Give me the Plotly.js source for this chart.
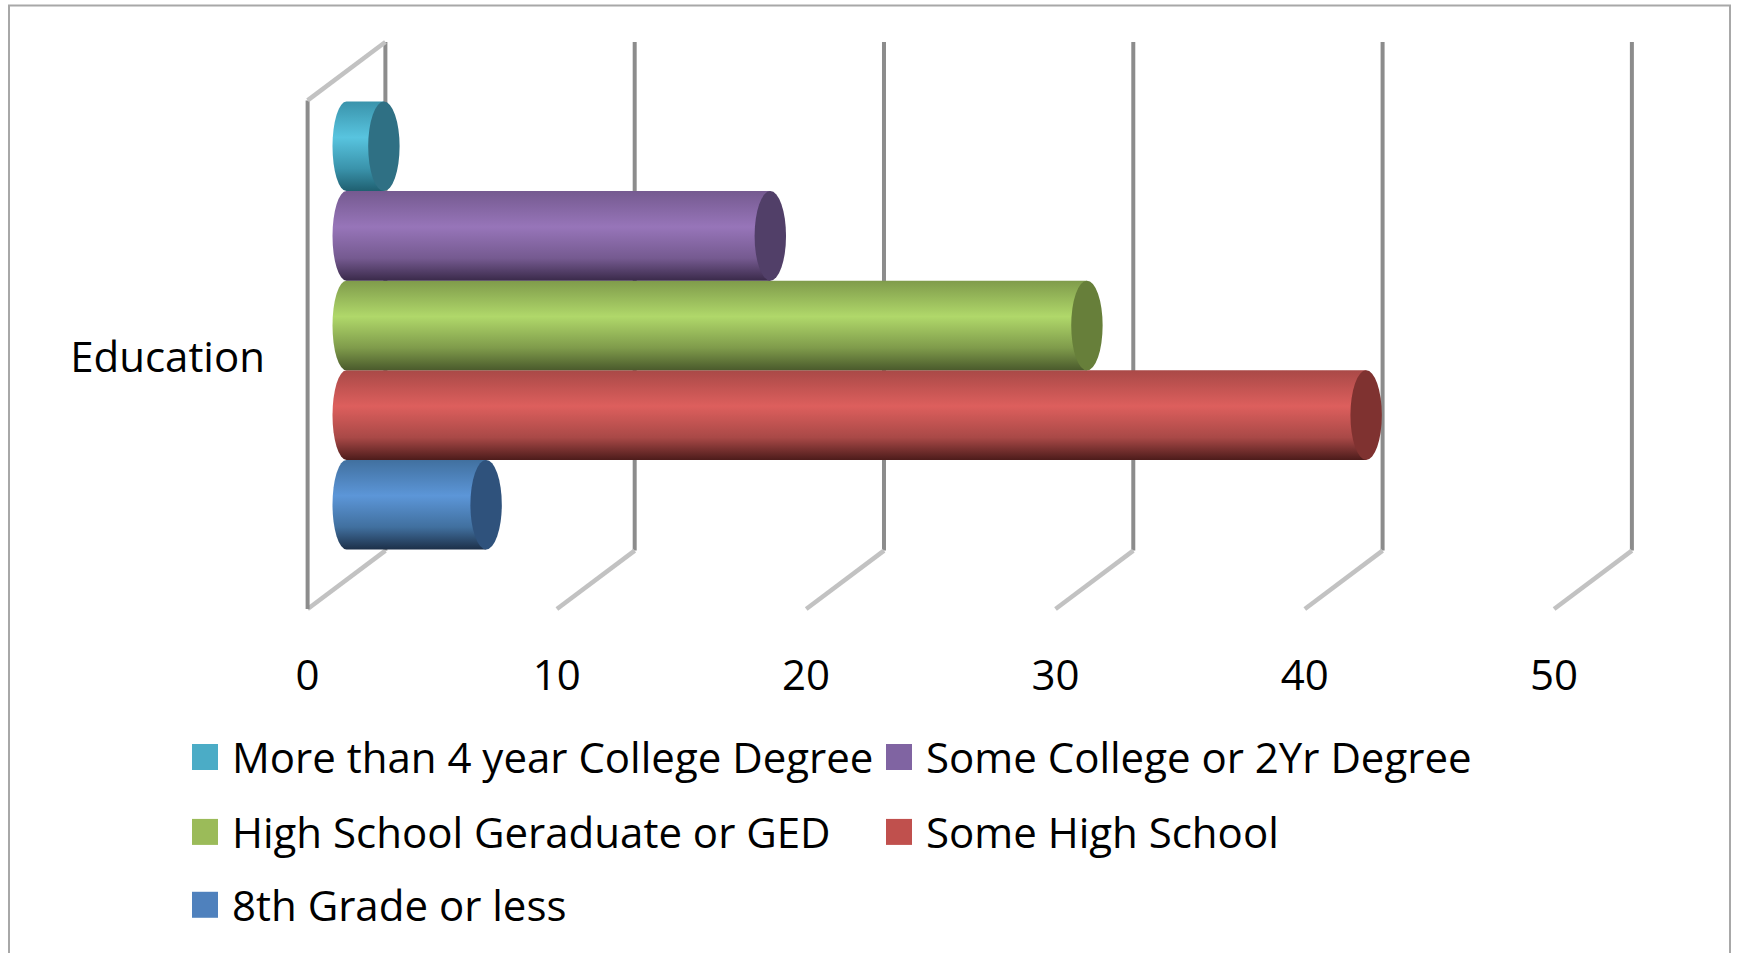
<!DOCTYPE html>
<html>
<head>
<meta charset="utf-8">
<script src="https://cdn.plot.ly/plotly-3.0.1.min.js"></script>
<style>html,body{margin:0;padding:0;background:#fff;overflow:hidden}#chart{width:1741px;height:953px}</style>
</head>
<body>
<div id="chart"></div>
<script>
var categories = ['Education'];
var seriesNames = ['8th Grade or less', 'Some High School', 'High School Geraduate or GED', 'Some College or 2Yr Degree', 'More than 4 year College Degree'];
var seriesValues = [5.6, 40.9, 29.7, 17, 1.5];
var legendColors = ['#4f81bd', '#c0504d', '#9bbb59', '#8064a2', '#4bacc6'];
var capColors = ['#2f527c', '#7f3230', '#677f3a', '#513f68', '#2f7084'];
var gradTop = ['#41709f', '#a94947', '#7f9b4b', '#755a90', '#3a93ab'];
var gradMid = ['#5c96d8', '#dd5f5d', '#b0d86a', '#9775b9', '#58c4df'];
var gradBottom = ['#1d3049', '#4d1c1b', '#4a5a2c', '#3a2a4a', '#1f5f70'];
var xTicks = [0, 10, 20, 30, 40, 50];

var W = 1741, H = 953, L = 300, R = 1681, T = 41.5, B = 609.5;
var pxPerUnit = 24.93, zeroPx = 346.5;
var depthUnits = 1.56;           // half of the wall depth, in axis units
var plotW = R - L, plotH = B - T;
var barBand = 0.79, barEach = barBand / seriesNames.length;
var fs = 42, textFont = '"Open Sans", sans-serif';
var paperX = function (p) { return (p - L) / plotW; };
var paperY = function (p) { return (B - p) / plotH; };

var legendPos = [[192, 906], [886, 833], [192, 833], [886, 758], [192, 758]];

var traces = seriesNames.map(function (n, i) {
  return {
    type: 'bar', orientation: 'h', name: n,
    y: categories, x: [seriesValues[i]],
    marker: {color: legendColors[i], line: {width: 0}},
    legend: i === 0 ? 'legend' : 'legend' + (i + 1),
    showlegend: true,
    hoverinfo: 'name+x'
  };
});

var shapes = [];
// outer chart frame
shapes.push({type: 'rect', xref: 'paper', yref: 'paper', layer: 'below',
  x0: paperX(9), x1: paperX(1730), y0: paperY(960), y1: paperY(5),
  line: {color: '#a8a8a8', width: 2}, fillcolor: 'rgba(0,0,0,0)'});

var wallLine = {color: '#8c8c8c', width: 4};
var floorLine = {color: '#c2c2c2', width: 4.5};
var floorBackY = paperY(551), frontTopY = paperY(100);
xTicks.forEach(function (t) {
  // back wall gridline
  shapes.push({type: 'line', xref: 'x', yref: 'paper', layer: 'below',
    x0: t + depthUnits, x1: t + depthUnits, y0: floorBackY, y1: 1, line: wallLine});
  // floor diagonal
  shapes.push({type: 'line', xref: 'x', yref: 'paper', layer: 'below',
    x0: t - depthUnits, x1: t + depthUnits, y0: 0, y1: floorBackY, line: floorLine});
});
// left side wall
shapes.push({type: 'line', xref: 'x', yref: 'paper', layer: 'below',
  x0: -depthUnits, x1: -depthUnits, y0: 0, y1: frontTopY, line: wallLine});
shapes.push({type: 'line', xref: 'x', yref: 'paper', layer: 'below',
  x0: -depthUnits, x1: depthUnits, y0: frontTopY, y1: 1, line: floorLine});

// cylinder end caps
var capRx = 0.63;
seriesValues.forEach(function (v, i) {
  var c = -barBand / 2 + barEach * (i + 0.5);
  shapes.push({type: 'circle', xref: 'x', yref: 'y', layer: 'above',
    x0: v - capRx, x1: v + capRx, y0: c - barEach / 2, y1: c + barEach / 2,
    fillcolor: capColors[i], line: {width: 0}});
});

var layout = {
  width: W, height: H, autosize: false, showlegend: true,
  paper_bgcolor: '#fff', plot_bgcolor: 'rgba(0,0,0,0)',
  margin: {l: L, r: W - R, t: T, b: H - B, pad: 0, autoexpand: false},
  barmode: 'group', bargap: 1 - barBand, bargroupgap: 0,
  font: {family: textFont, color: '#000', size: fs},
  xaxis: {
    range: [(L - zeroPx) / pxPerUnit, (R - zeroPx) / pxPerUnit], automargin: false,
    tickmode: 'array', tickvals: xTicks, ticktext: xTicks.map(String),
    showgrid: false, zeroline: false, showline: false, ticks: '',
    ticklabelshift: -39, ticklabelstandoff: 38,
    tickfont: {family: textFont, size: fs, color: '#000'}
  },
  yaxis: {
    type: 'category', categoryarray: categories, range: [-0.5, 0.5], automargin: false,
    showgrid: false, zeroline: false, showline: false, ticks: '',
    ticklabelshift: 32, ticklabelstandoff: 34,
    tickfont: {family: textFont, size: fs, color: '#000'}
  },
  shapes: shapes
};
legendPos.forEach(function (p, i) {
  layout[i === 0 ? 'legend' : 'legend' + (i + 1)] = {
    xref: 'paper', yref: 'paper',
    x: paperX(p[0]), y: paperY(p[1]), xanchor: 'left', yanchor: 'middle',
    bgcolor: 'rgba(0,0,0,0)', borderwidth: 0, itemwidth: 30,
    font: {family: textFont, size: fs, color: '#000'},
    itemclick: false, itemdoubleclick: false, visible: true
  };
});

function dress(gd) {
  var ns = 'http://www.w3.org/2000/svg';
  var svg = gd.querySelector('.main-svg');
  var defs = svg.querySelector('defs') || svg.insertBefore(document.createElementNS(ns, 'defs'), svg.firstChild);
  seriesNames.forEach(function (n, i) {
    var id = 'cyl' + i;
    if (defs.querySelector('#' + id)) return;
    var g = document.createElementNS(ns, 'linearGradient');
    g.setAttribute('id', id);
    g.setAttribute('x1', '0'); g.setAttribute('x2', '0'); g.setAttribute('y1', '0'); g.setAttribute('y2', '1');
    [[0, gradTop[i]], [0.4, gradMid[i]], [0.75, gradTop[i]], [1, gradBottom[i]]].forEach(function (s) {
      var st = document.createElementNS(ns, 'stop');
      st.setAttribute('offset', s[0]); st.setAttribute('stop-color', s[1]);
      g.appendChild(st);
    });
    defs.appendChild(g);
  });
  gd.querySelectorAll('.barlayer .trace').forEach(function (tr, i) {
    var p = tr.querySelector('.point path');
    if (!p || p.__done === p.getAttribute('d')) return;
    var b = p.getBBox(), y0 = b.y, y1 = b.y + b.height, x0 = b.x, x1 = b.x + b.width;
    var d = 'M' + x0 + ',' + y0 + 'H' + x1 + 'V' + y1 + 'H' + x0 +
      'A14,' + (b.height / 2) + ' 0 0 1 ' + x0 + ',' + y0 + 'Z';
    p.setAttribute('d', d);
    p.__done = d;
    p.style.fill = 'url(#cyl' + i + ')';
    p.style.fillOpacity = 1;
  });
  // legend keys are square
  gd.querySelectorAll('.legendpoints path').forEach(function (k) {
    k.setAttribute('d', 'M6,13H-20V-13H6Z');
  });
}
var gd = document.getElementById('chart');
Plotly.newPlot(gd, traces, layout, {displayModeBar: false, responsive: false}).then(function () {
  dress(gd);
  gd.on('plotly_afterplot', function () { dress(gd); });
});
</script>
</body>
</html>
